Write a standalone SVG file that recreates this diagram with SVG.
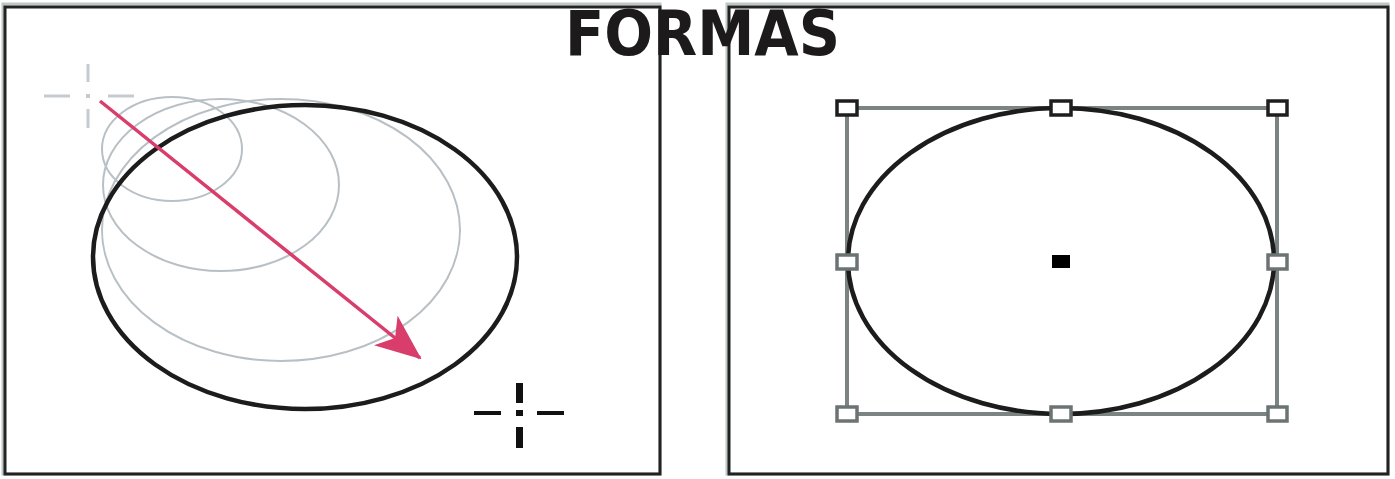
<svg xmlns="http://www.w3.org/2000/svg" width="1395" height="479" viewBox="0 0 1395 479">
<defs>
<style>
.frameOuter{fill:none;stroke:#bfc6c6;stroke-width:3}
.frame{fill:none;stroke:#222222;stroke-width:3}
.trail{fill:none;stroke:#b9c0c5;stroke-width:2}
.main{fill:none;stroke:#1c1c1c;stroke-width:4.5}
.bbox{fill:none;stroke:#7c8483;stroke-width:4}
.hdark{fill:#ffffff;stroke:#1e1e1e;stroke-width:3.5}
.hgrey{fill:#ffffff;stroke:#6c7473;stroke-width:3.5}
.title{font-family:"DejaVu Sans","Liberation Sans",sans-serif;font-weight:bold;font-size:62px;fill:#1c1a1a}
</style>
<marker id="arrowHead" viewBox="0 0 46 38" refX="44" refY="19" markerWidth="46" markerHeight="38" markerUnits="userSpaceOnUse" orient="auto">
<path d="M0,0 L46,19 L0,38 L12,19 Z" fill="#d83d6c"/>
</marker>
</defs>

<g id="panel-left">
<rect class="frameOuter" x="3" y="4" width="657" height="470"/>
<rect class="frame" x="5" y="7" width="655" height="467"/>
</g>
<g id="panel-right">
<rect class="frameOuter" x="727" y="4" width="661" height="470"/>
<rect class="frame" x="729" y="7" width="659" height="467"/>
</g>

<g id="trail-ellipses">
<ellipse class="trail" cx="172" cy="149" rx="70" ry="52"/>
<ellipse class="trail" cx="221" cy="185" rx="118" ry="86"/>
<ellipse class="trail" cx="281" cy="230" rx="179" ry="131"/>
</g>

<g id="crosshair-start" stroke="#c5cbcf" stroke-width="3" fill="none">
<line x1="44" y1="96" x2="70" y2="96"/>
<line x1="108" y1="96" x2="134" y2="96"/>
<line x1="88" y1="64" x2="88" y2="82"/>
<line x1="88" y1="109" x2="88" y2="128"/>
<rect x="86" y="94" width="4" height="4" fill="#c5cbcf" stroke="none"/>
</g>

<g id="ellipse-drawn">
<ellipse class="main" cx="305" cy="257" rx="212" ry="152"/>
</g>

<g id="connectors">
<line x1="100" y1="101" x2="420" y2="358" stroke="#d83d6c" stroke-width="3.5" marker-end="url(#arrowHead)"/>
</g>

<g id="crosshair-end" fill="#111111">
<rect x="474" y="411" width="27" height="4"/>
<rect x="537" y="411" width="27" height="4"/>
<rect x="516" y="383" width="7" height="20"/>
<rect x="516" y="427" width="7" height="21"/>
<rect x="516" y="410" width="7" height="6"/>
</g>

<g id="title">
<text class="title" x="565" y="55" textLength="275" lengthAdjust="spacingAndGlyphs">FORMAS</text>
</g>

<g id="bounding-box">
<rect class="bbox" x="847" y="108" width="430" height="306"/>
</g>

<g id="ellipse-selected">
<ellipse class="main" cx="1061" cy="261" rx="213" ry="153"/>
<rect x="1052" y="255" width="18" height="13" fill="#000000"/>
</g>

<g id="handles">
<rect class="hdark" x="837" y="101" width="20" height="14"/>
<rect class="hdark" x="1051" y="101" width="20" height="14"/>
<rect class="hdark" x="1268" y="101" width="19" height="14"/>
<rect class="hgrey" x="837" y="255" width="20" height="14"/>
<rect class="hgrey" x="1268" y="255" width="19" height="14"/>
<rect class="hgrey" x="837" y="407" width="20" height="14"/>
<rect class="hgrey" x="1051" y="407" width="20" height="14"/>
<rect class="hgrey" x="1268" y="407" width="19" height="14"/>
</g>
</svg>
